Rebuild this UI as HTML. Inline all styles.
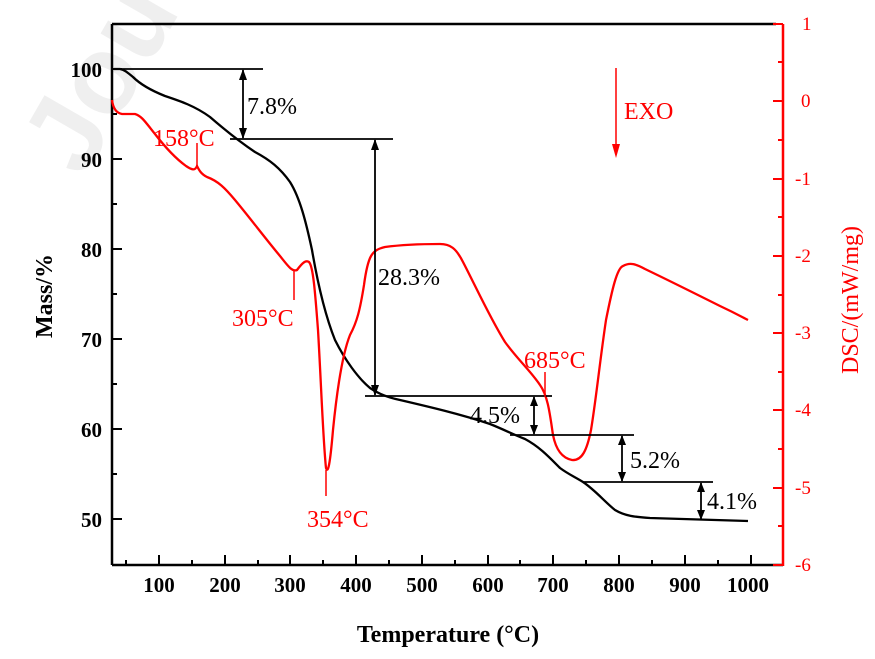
<!DOCTYPE html>
<html><head><meta charset="utf-8"><style>
html,body{margin:0;padding:0;background:#fff;}
svg{display:block;}
</style></head><body>
<svg width="875" height="659" viewBox="0 0 875 659" xmlns="http://www.w3.org/2000/svg" font-family="Liberation Serif, serif">
<text x="20" y="170" transform="rotate(-60 60 120)" font-size="110" fill="#efefef" font-family="Liberation Sans, sans-serif" font-weight="bold">Jou</text>
<!-- frame -->
<g stroke="#000" stroke-width="2.5" fill="none">
<line x1="112" y1="24" x2="112" y2="565"/>
<line x1="112" y1="565" x2="783" y2="565"/>
<line x1="112" y1="24" x2="776" y2="24"/>
</g>
<line x1="783" y1="24" x2="783" y2="566" stroke="#f00" stroke-width="2.5"/>
<!-- left ticks -->
<g stroke="#000" stroke-width="2">
<line x1="112" y1="69" x2="122" y2="69"/><line x1="112" y1="159" x2="122" y2="159"/><line x1="112" y1="249" x2="122" y2="249"/><line x1="112" y1="339" x2="122" y2="339"/><line x1="112" y1="429" x2="122" y2="429"/><line x1="112" y1="519" x2="122" y2="519"/>
<line x1="112" y1="114" x2="117" y2="114"/><line x1="112" y1="204" x2="117" y2="204"/><line x1="112" y1="294" x2="117" y2="294"/><line x1="112" y1="384" x2="117" y2="384"/><line x1="112" y1="474" x2="117" y2="474"/>
<line x1="159" y1="565" x2="159" y2="555"/><line x1="225" y1="565" x2="225" y2="555"/><line x1="290" y1="565" x2="290" y2="555"/><line x1="356" y1="565" x2="356" y2="555"/><line x1="422" y1="565" x2="422" y2="555"/><line x1="488" y1="565" x2="488" y2="555"/><line x1="553" y1="565" x2="553" y2="555"/><line x1="619" y1="565" x2="619" y2="555"/><line x1="685" y1="565" x2="685" y2="555"/><line x1="751" y1="565" x2="751" y2="555"/>
<line x1="126" y1="565" x2="126" y2="560"/><line x1="192" y1="565" x2="192" y2="560"/><line x1="258" y1="565" x2="258" y2="560"/><line x1="323" y1="565" x2="323" y2="560"/><line x1="389" y1="565" x2="389" y2="560"/><line x1="455" y1="565" x2="455" y2="560"/><line x1="520" y1="565" x2="520" y2="560"/><line x1="586" y1="565" x2="586" y2="560"/><line x1="652" y1="565" x2="652" y2="560"/><line x1="718" y1="565" x2="718" y2="560"/>
</g>
<g stroke="#f00" stroke-width="2">
<line x1="773" y1="24" x2="783" y2="24"/><line x1="773" y1="101" x2="783" y2="101"/><line x1="773" y1="179" x2="783" y2="179"/><line x1="773" y1="256" x2="783" y2="256"/><line x1="773" y1="333" x2="783" y2="333"/><line x1="773" y1="410" x2="783" y2="410"/><line x1="773" y1="488" x2="783" y2="488"/><line x1="773" y1="565" x2="783" y2="565"/>
<line x1="778" y1="62" x2="783" y2="62"/><line x1="778" y1="140" x2="783" y2="140"/><line x1="778" y1="217" x2="783" y2="217"/><line x1="778" y1="295" x2="783" y2="295"/><line x1="778" y1="372" x2="783" y2="372"/><line x1="778" y1="449" x2="783" y2="449"/><line x1="778" y1="526" x2="783" y2="526"/>
</g>
<!-- labels -->
<g font-size="21" font-weight="bold" text-anchor="end">
<text x="102" y="77">100</text><text x="102" y="167">90</text><text x="102" y="257">80</text><text x="102" y="347">70</text><text x="102" y="437">60</text><text x="102" y="527">50</text>
</g>
<g font-size="21" font-weight="bold" text-anchor="middle">
<text x="159" y="592">100</text><text x="225" y="592">200</text><text x="290" y="592">300</text><text x="356" y="592">400</text><text x="422" y="592">500</text><text x="488" y="592">600</text><text x="553" y="592">700</text><text x="619" y="592">800</text><text x="685" y="592">900</text><text x="748" y="592">1000</text>
</g>
<g font-size="19" fill="#f00">
<text x="802" y="30">1</text><text x="801" y="107">0</text><text x="795" y="185">-1</text><text x="795" y="262">-2</text><text x="795" y="339">-3</text><text x="795" y="416">-4</text><text x="795" y="494">-5</text><text x="795" y="571">-6</text>
</g>
<text x="448" y="642" font-size="24" font-weight="bold" text-anchor="middle">Temperature (°C)</text>
<text transform="translate(52 296) rotate(-90)" font-size="24" font-weight="bold" text-anchor="middle">Mass/%</text>
<text transform="translate(858 300) rotate(-90)" font-size="24" fill="#f00" text-anchor="middle">DSC/(mW/mg)</text>
<!-- TG -->
<path fill="none" stroke="#000" stroke-width="2.3" d="M114,69 L120,69 C125,70 128,73 133,77 C140,84 150,90 165,96 C180,101 195,106 210,117 C225,130 240,142 255,152 C270,160 280,168 290,182 C300,198 306,222 312,250 C318,285 325,315 335,340 C345,360 358,378 370,388 C380,395 390,398 400,400 C430,407 460,414 490,424 C505,430 512,434 525,439 C540,447 550,458 560,468 C568,474 575,477 583,482 C595,490 605,502 615,510 C625,516 635,517 650,518 C690,519 720,520 748,521"/>
<!-- DSC -->
<path fill="none" stroke="#f00" stroke-width="2.3" d="M112,100 C113,108 116,113 122,114 L135,114 C142,116 146,123 155,134 C165,147 175,158 186,166 C192,170 195,171 197,166 C199,170 201,174 207,177 C218,181 225,188 235,200 C250,218 265,238 280,256 C288,266 292,272 297,270 C303,262 306,260 309,262 C313,266 315,290 318,330 C321,380 323,440 326,468 C328,474 330,465 333,430 C337,390 342,355 350,335 C357,322 360,310 364,285 C368,255 372,250 385,247 C400,245 420,244 440,244 C450,244 456,248 463,262 C475,285 490,318 505,342 C518,360 530,370 540,385 C548,396 550,415 553,435 C556,450 562,458 572,460 C582,461 587,450 591,430 C596,400 600,360 606,320 C612,290 617,268 623,266 C630,262 636,264 645,269 C670,281 700,296 720,306 C735,313 742,317 748,320"/>
<!-- annotation lines -->
<g stroke="#000" stroke-width="1.8" fill="none">
<line x1="114" y1="69" x2="263" y2="69"/>
<line x1="230" y1="139" x2="393" y2="139"/>
<line x1="243" y1="70" x2="243" y2="138"/>
<line x1="375" y1="140" x2="375" y2="395"/>
<line x1="365" y1="396" x2="552" y2="396"/>
<line x1="534" y1="397" x2="534" y2="434"/>
<line x1="510" y1="435" x2="634" y2="435"/>
<line x1="622" y1="436" x2="622" y2="481"/>
<line x1="583" y1="482" x2="713" y2="482"/>
<line x1="701" y1="483" x2="701" y2="519"/>
</g>
<g fill="#000">
<polygon points="243,69 239,80 247,80"/><polygon points="243,139 239,128 247,128"/>
<polygon points="375,139 371,150 379,150"/><polygon points="375,396 371,385 379,385"/>
<polygon points="534,396 530,406 538,406"/><polygon points="534,435 530,425 538,425"/>
<polygon points="622,435 618,445 626,445"/><polygon points="622,482 618,472 626,472"/>
<polygon points="701,482 697,492 705,492"/><polygon points="701,520 697,510 705,510"/>
</g>
<g font-size="24">
<text x="247" y="114">7.8%</text><text x="378" y="285">28.3%</text><text x="470" y="423">4.5%</text><text x="630" y="468">5.2%</text><text x="707" y="509">4.1%</text>
</g>
<!-- red annotations -->
<g stroke="#f00" stroke-width="1.5">
<line x1="197" y1="143" x2="197" y2="168"/>
<line x1="294" y1="270" x2="294" y2="300"/>
<line x1="326" y1="470" x2="326" y2="496"/>
<line x1="545" y1="372" x2="545" y2="397"/>
<line x1="616" y1="68" x2="616" y2="150"/>
</g>
<polygon points="616,158 612,144 620,144" fill="#f00"/>
<g font-size="24" fill="#f00">
<text x="153" y="146">158°C</text><text x="232" y="326">305°C</text><text x="307" y="527">354°C</text><text x="524" y="368">685°C</text><text x="624" y="119">EXO</text>
</g>
</svg>
</body></html>
